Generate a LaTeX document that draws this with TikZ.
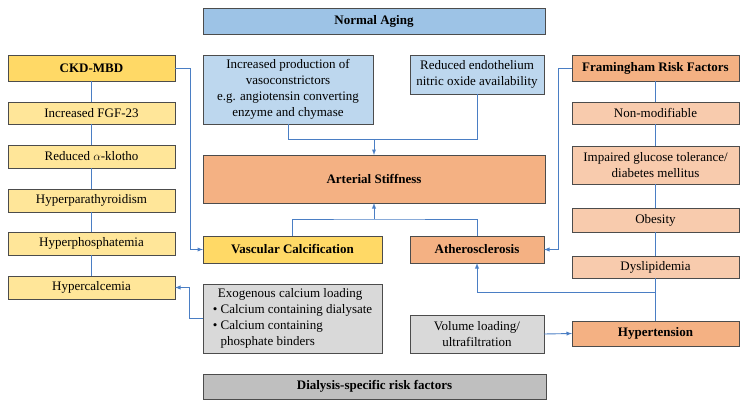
\documentclass[tikz,border=0pt]{standalone}
\usepackage{fontspec}
\setmainfont{Liberation Serif}
\usetikzlibrary{positioning,arrows}

\definecolor{agingblue}{HTML}{9DC3E6}
\definecolor{lightblue}{HTML}{BDD7EE}
\definecolor{gold}{HTML}{FFD966}
\definecolor{lightgold}{HTML}{FFE699}
\definecolor{salmon}{HTML}{F4B183}
\definecolor{lightsalmon}{HTML}{F8CBAD}
\definecolor{lightgrey}{HTML}{D9D9D9}
\definecolor{midgrey}{HTML}{BFBFBF}
\definecolor{linkblue}{HTML}{4A7EC4}

\tikzset{
  box/.style={rectangle, draw=black!70, line width=0.8pt, inner sep=0pt, outer sep=0pt, align=center},
  head/.style={box, font=\fontsize{13}{16}\selectfont\bfseries},
  link/.style={draw=linkblue, line width=0.9pt},
  arr/.style={link, ->, >=latex}
}

\begin{document}
\begin{tikzpicture}[x=1pt, y=-1pt, font=\fontsize{13}{16}\selectfont]
\useasboundingbox (0,0) rectangle (748,408);
% top and bottom banners
\node [head, fill=agingblue, minimum width=342pt, minimum height=26pt] (aging) at (374,21) {Normal Aging};
\node [head, fill=midgrey, minimum width=343pt, minimum height=25pt] (dialysis) at (374.5,386.5) {Dialysis-specific risk factors};
% normal aging causes
\node [box, fill=lightblue, minimum width=170pt, minimum height=69pt] (vaso) at (288,89.5) {Increased production of\\vasoconstrictors\\e.g. angiotensin converting\\enzyme and chymase};
\node [box, fill=lightblue, minimum width=134pt, minimum height=39pt] (endo) at (477,74.5) {Reduced endothelium\\nitric oxide availability};
\node [head, fill=salmon, minimum width=342pt, minimum height=48pt] (stiff) at (374,179) {Arterial Stiffness};
% CKD-MBD column
\node [head, fill=gold, minimum width=167pt, minimum height=26pt] (ckd) at (91.5,68) {CKD-MBD};
\node [box, fill=lightgold, minimum width=167pt, minimum height=22pt, below=21pt of ckd] (fgf) {Increased FGF-23};
\node [box, fill=lightgold, minimum width=167pt, minimum height=23pt, below=21pt of fgf] (klotho) {Reduced $\alpha$-klotho};
\node [box, fill=lightgold, minimum width=167pt, minimum height=23pt, below=21pt of klotho] (hpth) {Hyperparathyroidism};
\node [box, fill=lightgold, minimum width=167pt, minimum height=23pt, below=20pt of hpth] (hphos) {Hyperphosphatemia};
\node [box, fill=lightgold, minimum width=167pt, minimum height=23pt, below=21pt of hphos] (hcal) {Hypercalcemia};
% Framingham column
\node [head, fill=salmon, minimum width=167pt, minimum height=26pt] (fram) at (655.5,68) {Framingham Risk Factors};
\node [box, fill=lightsalmon, minimum width=167pt, minimum height=22pt, below=21pt of fram] (nonmod) {Non-modifiable};
\node [box, fill=lightsalmon, minimum width=167pt, minimum height=38pt, below=22pt of nonmod] (gluc) {Impaired glucose tolerance/\\diabetes mellitus};
\node [box, fill=lightsalmon, minimum width=167pt, minimum height=24pt, below=24pt of gluc] (obes) {Obesity};
\node [box, fill=lightsalmon, minimum width=167pt, minimum height=22pt, below=24pt of obes] (dysl) {Dyslipidemia};
\node [head, fill=salmon, minimum width=167pt, minimum height=25pt] (htn) at (655.5,333.5) {Hypertension};
% middle row
\node [head, fill=gold, minimum width=179pt, minimum height=27pt] (vcalc) at (292.5,249.5) {Vascular Calcification};
\node [head, fill=salmon, minimum width=134pt, minimum height=27pt] (athero) at (477,249.5) {Atherosclerosis};
\node [box, fill=lightgrey, minimum width=179pt, minimum height=69pt, align=left] (exo) at (292.5,318.5) {\hspace*{0.4em}Exogenous calcium loading\\\textbullet\ Calcium containing dialysate\\\textbullet\ Calcium containing\\\hphantom{\textbullet\ }phosphate binders};
\node [box, fill=lightgrey, minimum width=134pt, minimum height=38pt] (vol) at (477,334) {Volume loading/\\ultrafiltration};
% junctions
\coordinate (upper) at (374,139);
\coordinate (lower) at (374,219);
\coordinate (split) at (656,292);
% column links
\foreach \a/\b in {ckd/fgf, fgf/klotho, klotho/hpth, hpth/hphos, hphos/hcal, fram/nonmod, nonmod/gluc, gluc/obes, obes/dysl, dysl/htn}
  \draw [link] (\a.south) -- (\b.north);
% into arterial stiffness
\draw [link] (vaso.south) |- (upper);
\draw [link] (endo.south) |- (upper);
\draw [arr] (upper) -- (stiff.north);
\draw [link] (vcalc.north) |- (lower) -| (athero.north);
\draw [arr] (lower) -- (stiff.south);
% side arrows
\draw [arr] (ckd.east) -- ++(15,0) |- (vcalc.west);
\draw [arr] (exo.west) -- ++(-14,0) |- (hcal.east);
\draw [arr] (fram.west) -- ++(-14,0) |- (athero.east);
\draw [arr] (split) -| (athero.south);
\draw [arr] (vol.east) -- (htn.west);
\end{tikzpicture}
\end{document}
